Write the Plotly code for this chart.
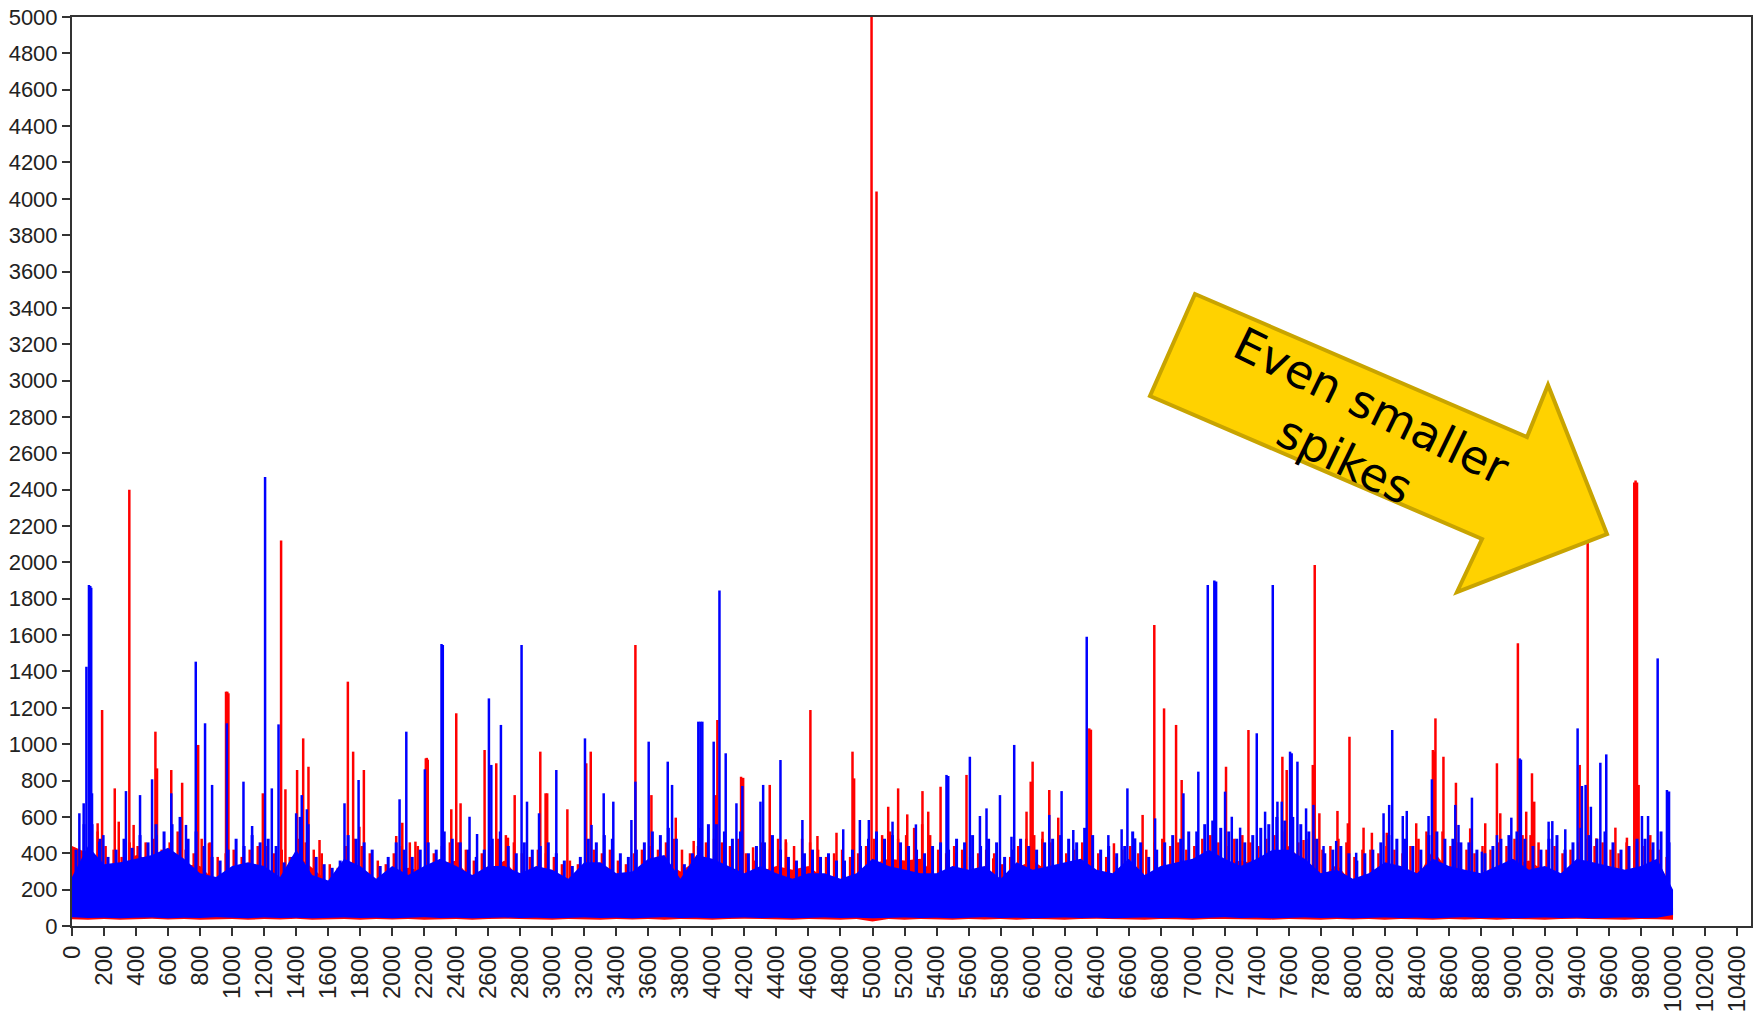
import plotly.graph_objects as go

# ---------------- data ----------------
band_x = list(range(0, 10001, 100))

blue_top = [270, 440, 340, 350, 370, 390, 430, 370, 290, 270,
            330, 350, 330, 270, 420, 280, 250, 370, 330, 260,
            330, 280, 330, 370, 330, 280, 330, 330, 290, 330,
            310, 260, 350, 350, 290, 300, 370, 390, 260, 390,
            370, 330, 290, 330, 290, 260, 290, 290, 260, 290,
            370, 330, 310, 290, 290, 330, 310, 330, 260, 350,
            310, 330, 350, 370, 310, 290, 370, 280, 330, 350,
            370, 420, 370, 330, 370, 420, 420, 370, 290, 310,
            260, 290, 350, 330, 290, 370, 330, 310, 290, 330,
            370, 310, 330, 290, 370, 350, 330, 310, 330, 370, 200]

blue_bottom = [48, 44, 46, 42, 45, 47, 43, 46, 44, 48,
               45, 43, 47, 44, 46, 42, 45, 47, 44, 46,
               43, 45, 48, 44, 46, 43, 45, 47, 44, 46,
               42, 45, 47, 44, 46, 43, 45, 48, 44, 46,
               43, 45, 47, 44, 46, 42, 45, 47, 44, 46,
               43, 45, 47, 44, 46, 43, 45, 48, 44, 46,
               42, 45, 47, 44, 46, 43, 45, 47, 44, 46,
               43, 45, 48, 44, 46, 42, 45, 47, 44, 46,
               43, 45, 47, 44, 46, 43, 45, 48, 44, 46,
               42, 45, 47, 44, 46, 43, 45, 47, 44, 46, 60]

red_top = [440, 400, 310, 320, 390, 360, 400, 340, 330, 240,
           300, 320, 300, 240, 390, 320, 240, 340, 300, 230,
           300, 320, 300, 340, 360, 250, 300, 360, 260, 300,
           280, 230, 320, 320, 260, 270, 340, 360, 300, 360,
           340, 300, 260, 300, 330, 310, 330, 260, 230, 260,
           340, 370, 360, 370, 260, 300, 280, 300, 230, 320,
           360, 300, 320, 340, 280, 260, 340, 250, 300, 320,
           340, 390, 340, 360, 340, 390, 440, 340, 260, 340,
           230, 260, 320, 300, 260, 420, 300, 280, 260, 300,
           340, 360, 300, 260, 340, 320, 300, 280, 300, 340, 100]

red_bottom = [37, 35, 39, 34, 38, 40, 36, 38, 35, 37,
              39, 34, 38, 36, 40, 35, 37, 39, 34, 38,
              36, 39, 35, 37, 39, 34, 38, 40, 36, 37,
              35, 39, 37, 34, 39, 36, 38, 35, 39, 37,
              34, 38, 40, 36, 37, 35, 39, 37, 34, 39,
              25, 38, 35, 39, 37, 34, 39, 36, 38, 35,
              39, 37, 34, 38, 40, 36, 37, 35, 39, 37,
              34, 38, 39, 36, 37, 35, 39, 37, 34, 39,
              36, 38, 35, 39, 37, 34, 39, 36, 38, 35,
              39, 37, 34, 38, 40, 36, 37, 35, 39, 37, 35]

# local maxima of the dense "hair" above the solid band, two per 100 samples
blue_hair_x = [x + off for x in range(0, 10000, 100) for off in (25, 75)]
blue_hair_y = [420, 560, 560, 480, 380, 420, 480, 430, 500, 460, 560, 520, 560, 600, 480, 520, 440, 380, 360, 420,
               480, 440, 500, 460, 480, 440, 350, 380, 600, 560, 380, 340, 320, 360, 500, 480, 460, 420, 330, 380,
               460, 420, 380, 420, 460, 420, 520, 480, 460, 420, 380, 420, 480, 520, 440, 400, 460, 420, 440, 460,
               400, 360, 330, 380, 480, 460, 500, 480, 400, 380, 420, 460, 520, 500, 540, 480, 340, 400, 540, 560,
               560, 520, 480, 520, 400, 440, 460, 500, 420, 380, 360, 400, 420, 380, 400, 360, 360, 420, 440, 480,
               520, 480, 500, 460, 440, 420, 400, 440, 460, 420, 480, 460, 500, 440, 480, 460, 380, 420, 480, 440,
               420, 460, 480, 500, 480, 460, 540, 500, 420, 440, 400, 440, 520, 460, 380, 420, 460, 500, 480, 520,
               520, 560, 580, 540, 520, 480, 460, 500, 540, 560, 600, 580, 600, 560, 520, 480, 400, 420, 440, 400,
               360, 400, 420, 460, 500, 480, 480, 440, 420, 500, 520, 480, 480, 460, 460, 420, 400, 440, 480, 500,
               520, 480, 440, 420, 480, 500, 420, 460, 540, 500, 480, 520, 460, 420, 440, 480, 480, 460, 520, 460]

red_hair_x = [x + off for x in range(0, 10000, 100) for off in (10, 60)]
red_hair_y = [430, 400, 480, 520, 440, 420, 380, 460, 440, 460, 480, 420, 460, 520, 420, 400, 480, 460, 380, 400,
              420, 380, 420, 440, 440, 400, 420, 380, 480, 460, 420, 400, 340, 320, 440, 480, 440, 400, 360, 340,
              400, 440, 460, 440, 420, 400, 440, 460, 460, 420, 360, 400, 440, 480, 500, 460, 400, 380, 420, 400,
              380, 340, 360, 340, 440, 420, 400, 420, 360, 340, 400, 420, 440, 420, 460, 480, 420, 400, 440, 460,
              480, 460, 440, 480, 400, 360, 460, 420, 480, 460, 440, 480, 460, 420, 380, 400, 420, 380, 400, 440,
              480, 500, 520, 480, 500, 540, 560, 500, 420, 400, 440, 420, 380, 400, 420, 400, 340, 380, 440, 480,
              500, 480, 460, 420, 400, 420, 460, 440, 400, 380, 380, 420, 440, 400, 420, 460, 480, 440, 460, 420,
              440, 480, 500, 460, 440, 480, 500, 460, 440, 480, 500, 520, 480, 460, 480, 500, 420, 440, 480, 460,
              380, 420, 420, 400, 440, 420, 400, 440, 480, 520, 560, 520, 440, 460, 420, 400, 440, 420, 460, 440,
              480, 500, 500, 460, 420, 440, 400, 420, 460, 480, 440, 460, 420, 400, 460, 500, 440, 420, 420, 380]

blue_spike_x = [46, 73, 90, 106, 114, 120, 125, 170, 196, 337, 425, 500, 528, 620, 712, 773, 831, 875, 967,
                1071, 1125, 1206, 1248, 1290, 1400, 1435, 1467, 1702, 1790, 2046, 2088, 2204, 2308, 2316,
                2483, 2530, 2604, 2619, 2679, 2808, 2842, 2917, 3025, 3204, 3245, 3321, 3381, 3494, 3519,
                3602, 3721, 3748, 3912, 3925, 3937, 4008, 4044, 4083, 4150, 4187, 4300, 4317, 4425, 4562,
                4817, 4921, 4977, 5125, 5271, 5462, 5473, 5525, 5608, 5671, 5712, 5796, 5868, 5885, 6104,
                6181, 6254, 6338, 6473, 6556, 6592, 6640, 6765, 6942, 7035, 7094, 7135, 7146, 7202, 7244,
                7296, 7400, 7452, 7500, 7529, 7556, 7608, 7618, 7654, 7708, 7754, 7817, 7896, 8021, 8192,
                8227, 8246, 8312, 8337, 8473, 8494, 8640, 8660, 8744, 8806, 8900, 8990, 9042, 9050, 9223,
                9246, 9327, 9404, 9431, 9454, 9487, 9546, 9583, 9775, 9806, 9844, 9904, 9962, 9975]
blue_spike_y = [620, 675, 1426, 1876, 1870, 1860, 730, 464, 500, 742, 720, 807, 500, 730, 556, 1454, 1115, 776, 1115,
                794, 550, 2470, 757, 1109, 620, 720, 642, 675, 803, 697, 1069, 862, 1551, 1545,
                601, 506, 1252, 886, 1106, 1546, 684, 620, 858, 1032, 556, 730, 684, 583, 794,
                1014, 904, 776, 1124, 1124, 1124, 1014, 1845, 950, 675, 770, 684, 776, 913, 583,
                532, 583, 583, 574, 559, 831, 825, 403, 931, 605, 647, 720, 491, 996, 611,
                742, 528, 1591, 500, 532, 757, 482, 592, 730, 849, 1876, 1900, 1895, 739, 601,
                541, 1060, 629, 1876, 684, 684, 959, 950, 904, 647, 666, 440, 468, 403, 620,
                666, 1078, 605, 633, 605, 807, 666, 556, 706, 409, 500, 596, 922, 915, 574,
                577, 532, 1087, 770, 776, 656, 898, 944, 464, 605, 605, 1472, 748, 740]

red_spike_x = [4, 14, 25, 160, 188, 267, 292, 358, 385, 521, 531, 620, 688, 788, 855, 962, 970, 977, 1192,
               1306, 1333, 1406, 1444, 1477, 1546, 1723, 1756, 1795, 1823, 2025, 2063, 2145, 2210, 2216,
               2222, 2369, 2400, 2427, 2577, 2650, 2723, 2765, 2925, 2958, 2968, 3094, 3212, 3240, 3519,
               3619, 3771, 3883, 4021, 4031, 4179, 4192, 4254, 4358, 4458, 4612, 4656, 4775, 4875, 4885,
               4994, 5025, 5098, 5160, 5217, 5312, 5348, 5425, 5587, 5754, 5962, 5988, 6000, 6062, 6104,
               6160, 6354, 6364, 6508, 6687, 6760, 6821, 6896, 6931, 7208, 7348, 7560, 7587, 7692, 7750,
               7762, 7791, 7904, 7969, 7979, 8067, 8119, 8212, 8396, 8500, 8508, 8516, 8566, 8644, 8733,
               8827, 8900, 8921, 9031, 9083, 9119, 9133, 9417, 9467, 9521, 9640, 9712, 9758, 9766, 9775,
               9785, 9858]
red_spike_y = [433, 430, 425, 565, 1188, 757, 574, 2400, 556, 1069, 867, 858, 788, 996, 455, 1289, 1289, 1280, 730,
               2120, 752, 858, 1032, 876, 473, 1344, 959, 546, 858, 495, 568, 464, 922, 925,
               915, 642, 1170, 675, 968, 895, 486, 720, 959, 730, 730, 642, 895, 959, 1546,
               720, 596, 468, 720, 1133, 821, 815, 433, 776, 477, 1188, 495, 513, 959, 812,
               5000, 4040, 656, 757, 614, 742, 629, 766, 831, 372, 629, 794, 904, 519, 748,
               596, 1087, 1080, 455, 611, 1656, 1197, 1106, 803, 876, 1078, 931, 858, 473, 886,
               1986, 620, 633, 565, 1041, 541, 513, 513, 565, 968, 960, 1142, 931, 788, 537,
               565, 895, 620, 1555, 629, 840, 684, 886, 2300, 482, 541, 486, 2440, 2450, 2440,
               776, 500]

x_tick_values = list(range(0, 10401, 200))
x_tick_labels = [str(v) for v in x_tick_values]
y_tick_values = list(range(0, 5001, 200))
y_tick_labels = [str(v) for v in y_tick_values]

annotation_text = "Even smaller<br>spikes"

# ---------------- figure ----------------
W, H = 1758, 1013
ML, MR, MT, MB = 72, 7, 17, 87
PW, PH = W - ML - MR, H - MT - MB


def px_to_paper(px, py):
    return (px - ML) / PW, (H - MB - py) / PH


def band_trace(top, bottom, color):
    return go.Scatter(x=band_x + band_x[::-1], y=top + bottom[::-1], fill="toself",
                      fillcolor=color, mode="lines", line=dict(width=0, color=color),
                      hoverinfo="skip", showlegend=False)


def spike_trace(xs, ys, base, color, width):
    sx, sy = [], []
    for a, b in zip(xs, ys):
        sx += [a, a, None]
        sy += [base, b, None]
    return go.Scatter(x=sx, y=sy, mode="lines", line=dict(width=width, color=color),
                      hoverinfo="skip", showlegend=False)


fig = go.Figure()
fig.add_trace(band_trace(red_top, red_bottom, "#ff0000"))
fig.add_trace(spike_trace(red_hair_x, red_hair_y, 100, "#ff0000", 2.5))
fig.add_trace(spike_trace(red_spike_x, red_spike_y, 100, "#ff0000", 2.5))
fig.add_trace(band_trace(blue_top, blue_bottom, "#0000ff"))
fig.add_trace(spike_trace(blue_hair_x, blue_hair_y, 100, "#0000ff", 3))
fig.add_trace(spike_trace(blue_spike_x, blue_spike_y, 100, "#0000ff", 2.5))

# block arrow annotation (pixel vertices converted to paper coords)
arrow_px = [(1195, 294), (1150, 396), (1482, 539), (1457, 592), (1607, 534),
            (1548, 385), (1527, 437)]
pts = [px_to_paper(x, y) for x, y in arrow_px]
path = "M " + " L ".join(f"{x:.5f},{y:.5f}" for x, y in pts) + " Z"
fig.add_shape(type="path", path=path, xref="paper", yref="paper",
              fillcolor="#ffd200", line=dict(color="#c8a400", width=4), layer="above")

tx, ty = px_to_paper(1358, 433)
fig.add_annotation(x=tx, y=ty, xref="paper", yref="paper", text=annotation_text,
                   showarrow=False, textangle=26, xanchor="center", yanchor="middle",
                   font=dict(family="DejaVu Sans", size=46, color="black"))

axis_common = dict(showline=True, linecolor="#333333", linewidth=2, mirror=True,
                   ticks="outside", ticklen=8, tickwidth=2, tickcolor="#333333",
                   showgrid=False, zeroline=False)

fig.update_xaxes(range=[0, 10487], tickmode="array", tickvals=x_tick_values, ticktext=x_tick_labels,
                 tickangle=-90, tickfont=dict(family="Liberation Sans, Arial", size=24, color="#222222"),
                 **axis_common)
fig.update_yaxes(range=[0, 5000], tickmode="array", tickvals=y_tick_values, ticktext=y_tick_labels,
                 tickfont=dict(family="Liberation Sans, Arial", size=22, color="#222222"),
                 **axis_common)

fig.update_layout(width=W, height=H, margin=dict(l=ML, r=MR, t=MT, b=MB, autoexpand=False),
                  paper_bgcolor="white", plot_bgcolor="white")

fig.write_html("out.html")
